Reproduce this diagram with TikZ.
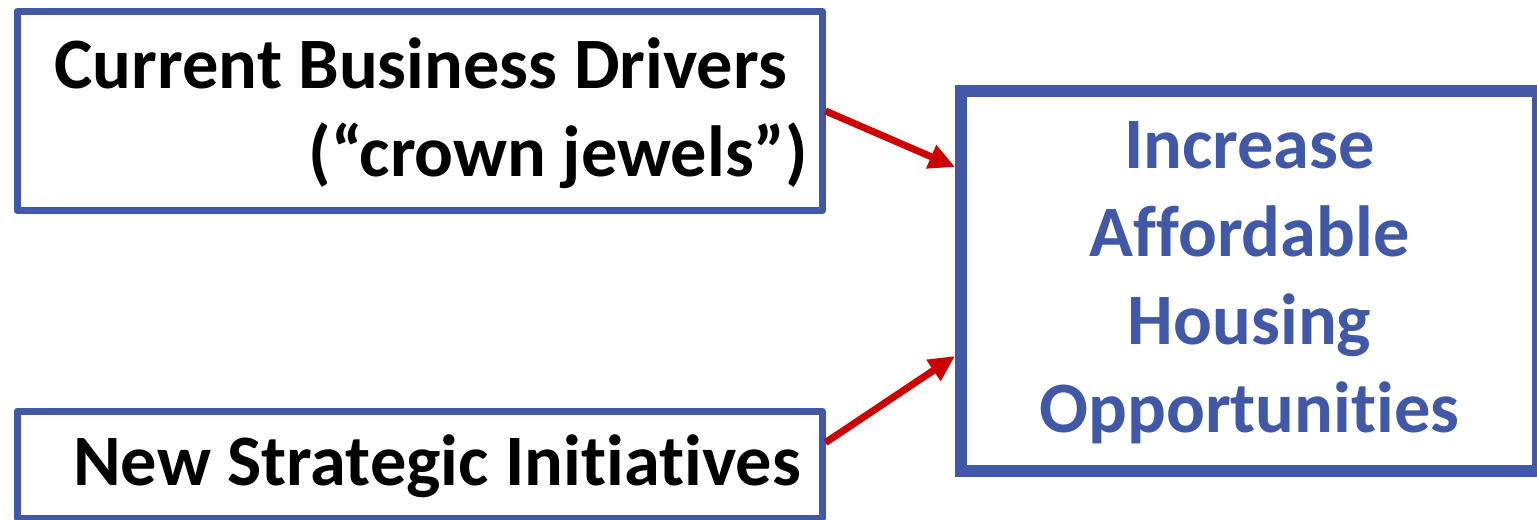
\documentclass[tikz,border=0pt]{standalone}
\usepackage{fontspec}
\setmainfont[Ligatures=NoCommon]{Carlito}
\usetikzlibrary{arrows.meta}

\definecolor{boxblue}{RGB}{65,88,166}
\definecolor{arrowred}{RGB}{204,0,0}

\tikzset{
  bigtext/.style={font=\bfseries\fontsize{20.6pt}{25pt}\selectfont},
  driver/.style={bigtext, draw=boxblue, line width=0.07cm, line join=round, text height=15.6pt,
    text width=7.77cm, align=flush right, inner xsep=0.14cm, inner ysep=0pt, minimum width=8.05cm},
  goal/.style={bigtext, draw=boxblue, line width=0.12cm, text=boxblue, text height=14.2pt,
    text width=5.4cm, align=flush center, minimum width=5.77cm, minimum height=3.8cm},
  feeds/.style={draw=arrowred, line width=0.07cm, -{Triangle[length=0.26cm,width=0.24cm]}}
}

\begin{document}
\begin{tikzpicture}
		\useasboundingbox (0,0) rectangle (15.37,-5.19);
		\clip (0,0) rectangle (15.37,-5.19);
		\node[driver, minimum height=1.995cm] (drivers) at (4.195,-1.11) {Current Business Drivers\rule{0.21cm}{0pt}\\(“crown jewels”)};
		\node[driver, minimum height=1.07cm] (initiatives) at (4.195,-4.645) {New Strategic Initiatives\rule{0.07cm}{0pt}};
		\node[goal] (housing) at (12.495,-2.81) {Increase\\Affordable\\Housing\\Opportunities};
		\draw[feeds] (drivers.east) -- ([yshift=1.14cm]housing.west);
		\draw[feeds] ([yshift=0.22cm]initiatives.east) -- ([yshift=-0.75cm]housing.west);
	\end{tikzpicture}
\end{document}
